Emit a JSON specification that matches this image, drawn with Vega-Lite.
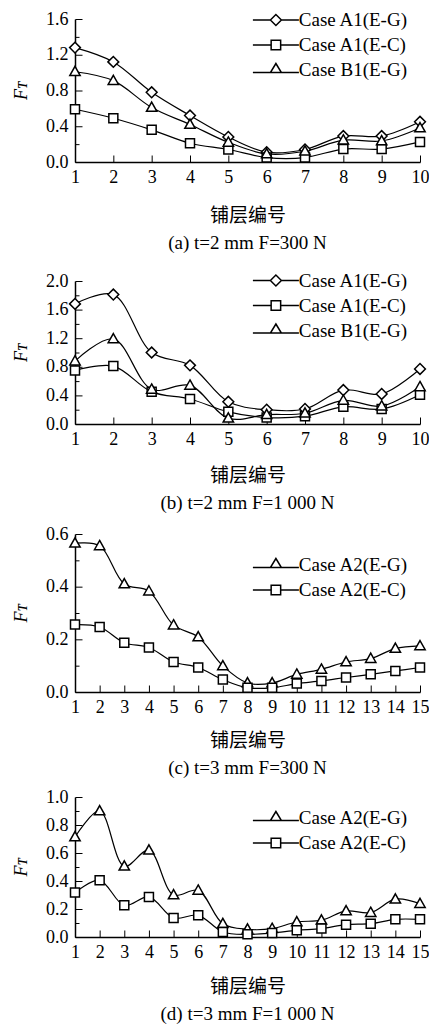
{
  "$schema": "https://vega.github.io/schema/vega-lite/v6.json",
  "autosize": {"type": "pad"},
  "padding": {"left": 12, "top": 10, "right": 0, "bottom": 0},
  "background": "white",
  "spacing": 10,
  "resolve": {"scale": {"shape": "independent"}, "legend": {"shape": "independent"}},
  "config": {
    "view": {"stroke": null},
    "axis": {
      "grid": false, "domainColor": "black", "domainWidth": 1.5,
      "tickColor": "black", "tickRound": false,
      "labelColor": "black", "labelFont": "Liberation Serif", "labelFontSize": 18,
      "labelFlush": false, "labelOverlap": false, "labelBound": false,
      "titleColor": "black", "titleFont": "Noto Sans CJK SC", "titleFontSize": 19, "titleFontWeight": "normal"
    },
    "title": {"font": "Liberation Serif", "fontSize": 19, "fontWeight": "normal", "color": "black", "orient": "bottom", "anchor": "middle", "frame": "group", "offset": 9},
    "legend": {"padding": 0, "rowPadding": 5, "labelFont": "Liberation Serif", "labelFontSize": 19, "labelColor": "black", "labelOffset": 13.4, "title": null}
  },
  "datasets": {
    "a": [
      {"x": 1, "y": 1.28, "series": "Case A1(E-G)"}, {"x": 2, "y": 1.12, "series": "Case A1(E-G)"}, {"x": 3, "y": 0.78, "series": "Case A1(E-G)"}, {"x": 4, "y": 0.52, "series": "Case A1(E-G)"}, {"x": 5, "y": 0.28, "series": "Case A1(E-G)"}, {"x": 6, "y": 0.11, "series": "Case A1(E-G)"}, {"x": 7, "y": 0.14, "series": "Case A1(E-G)"}, {"x": 8, "y": 0.29, "series": "Case A1(E-G)"}, {"x": 9, "y": 0.29, "series": "Case A1(E-G)"}, {"x": 10, "y": 0.45, "series": "Case A1(E-G)"},
      {"x": 1, "y": 0.59, "series": "Case A1(E-C)"}, {"x": 2, "y": 0.49, "series": "Case A1(E-C)"}, {"x": 3, "y": 0.36, "series": "Case A1(E-C)"}, {"x": 4, "y": 0.21, "series": "Case A1(E-C)"}, {"x": 5, "y": 0.14, "series": "Case A1(E-C)"}, {"x": 6, "y": 0.05, "series": "Case A1(E-C)"}, {"x": 7, "y": 0.05, "series": "Case A1(E-C)"}, {"x": 8, "y": 0.145, "series": "Case A1(E-C)"}, {"x": 9, "y": 0.145, "series": "Case A1(E-C)"}, {"x": 10, "y": 0.225, "series": "Case A1(E-C)"},
      {"x": 1, "y": 1.01, "series": "Case B1(E-G)"}, {"x": 2, "y": 0.91, "series": "Case B1(E-G)"}, {"x": 3, "y": 0.61, "series": "Case B1(E-G)"}, {"x": 4, "y": 0.42, "series": "Case B1(E-G)"}, {"x": 5, "y": 0.22, "series": "Case B1(E-G)"}, {"x": 6, "y": 0.09, "series": "Case B1(E-G)"}, {"x": 7, "y": 0.12, "series": "Case B1(E-G)"}, {"x": 8, "y": 0.245, "series": "Case B1(E-G)"}, {"x": 9, "y": 0.235, "series": "Case B1(E-G)"}, {"x": 10, "y": 0.38, "series": "Case B1(E-G)"}
    ],
    "b": [
      {"x": 1, "y": 1.68, "series": "Case A1(E-G)"}, {"x": 2, "y": 1.81, "series": "Case A1(E-G)"}, {"x": 3, "y": 1.0, "series": "Case A1(E-G)"}, {"x": 4, "y": 0.82, "series": "Case A1(E-G)"}, {"x": 5, "y": 0.31, "series": "Case A1(E-G)"}, {"x": 6, "y": 0.2, "series": "Case A1(E-G)"}, {"x": 7, "y": 0.21, "series": "Case A1(E-G)"}, {"x": 8, "y": 0.475, "series": "Case A1(E-G)"}, {"x": 9, "y": 0.42, "series": "Case A1(E-G)"}, {"x": 10, "y": 0.77, "series": "Case A1(E-G)"},
      {"x": 1, "y": 0.75, "series": "Case A1(E-C)"}, {"x": 2, "y": 0.81, "series": "Case A1(E-C)"}, {"x": 3, "y": 0.45, "series": "Case A1(E-C)"}, {"x": 4, "y": 0.35, "series": "Case A1(E-C)"}, {"x": 5, "y": 0.17, "series": "Case A1(E-C)"}, {"x": 6, "y": 0.09, "series": "Case A1(E-C)"}, {"x": 7, "y": 0.11, "series": "Case A1(E-C)"}, {"x": 8, "y": 0.24, "series": "Case A1(E-C)"}, {"x": 9, "y": 0.21, "series": "Case A1(E-C)"}, {"x": 10, "y": 0.41, "series": "Case A1(E-C)"},
      {"x": 1, "y": 0.88, "series": "Case B1(E-G)"}, {"x": 2, "y": 1.19, "series": "Case B1(E-G)"}, {"x": 3, "y": 0.485, "series": "Case B1(E-G)"}, {"x": 4, "y": 0.54, "series": "Case B1(E-G)"}, {"x": 5, "y": 0.08, "series": "Case B1(E-G)"}, {"x": 6, "y": 0.13, "series": "Case B1(E-G)"}, {"x": 7, "y": 0.15, "series": "Case B1(E-G)"}, {"x": 8, "y": 0.33, "series": "Case B1(E-G)"}, {"x": 9, "y": 0.25, "series": "Case B1(E-G)"}, {"x": 10, "y": 0.52, "series": "Case B1(E-G)"}
    ],
    "c": [
      {"x": 1, "y": 0.565, "series": "Case A2(E-G)"}, {"x": 2, "y": 0.555, "series": "Case A2(E-G)"}, {"x": 3, "y": 0.41, "series": "Case A2(E-G)"}, {"x": 4, "y": 0.383, "series": "Case A2(E-G)"}, {"x": 5, "y": 0.254, "series": "Case A2(E-G)"}, {"x": 6, "y": 0.209, "series": "Case A2(E-G)"}, {"x": 7, "y": 0.099, "series": "Case A2(E-G)"}, {"x": 8, "y": 0.034, "series": "Case A2(E-G)"}, {"x": 9, "y": 0.034, "series": "Case A2(E-G)"}, {"x": 10, "y": 0.067, "series": "Case A2(E-G)"}, {"x": 11, "y": 0.086, "series": "Case A2(E-G)"}, {"x": 12, "y": 0.114, "series": "Case A2(E-G)"}, {"x": 13, "y": 0.127, "series": "Case A2(E-G)"}, {"x": 14, "y": 0.165, "series": "Case A2(E-G)"}, {"x": 15, "y": 0.175, "series": "Case A2(E-G)"},
      {"x": 1, "y": 0.256, "series": "Case A2(E-C)"}, {"x": 2, "y": 0.247, "series": "Case A2(E-C)"}, {"x": 3, "y": 0.187, "series": "Case A2(E-C)"}, {"x": 4, "y": 0.169, "series": "Case A2(E-C)"}, {"x": 5, "y": 0.114, "series": "Case A2(E-C)"}, {"x": 6, "y": 0.093, "series": "Case A2(E-C)"}, {"x": 7, "y": 0.047, "series": "Case A2(E-C)"}, {"x": 8, "y": 0.016, "series": "Case A2(E-C)"}, {"x": 9, "y": 0.016, "series": "Case A2(E-C)"}, {"x": 10, "y": 0.032, "series": "Case A2(E-C)"}, {"x": 11, "y": 0.042, "series": "Case A2(E-C)"}, {"x": 12, "y": 0.055, "series": "Case A2(E-C)"}, {"x": 13, "y": 0.067, "series": "Case A2(E-C)"}, {"x": 14, "y": 0.08, "series": "Case A2(E-C)"}, {"x": 15, "y": 0.093, "series": "Case A2(E-C)"}
    ],
    "d": [
      {"x": 1, "y": 0.714, "series": "Case A2(E-G)"}, {"x": 2, "y": 0.9, "series": "Case A2(E-G)"}, {"x": 3, "y": 0.505, "series": "Case A2(E-G)"}, {"x": 4, "y": 0.62, "series": "Case A2(E-G)"}, {"x": 5, "y": 0.3, "series": "Case A2(E-G)"}, {"x": 6, "y": 0.333, "series": "Case A2(E-G)"}, {"x": 7, "y": 0.095, "series": "Case A2(E-G)"}, {"x": 8, "y": 0.055, "series": "Case A2(E-G)"}, {"x": 9, "y": 0.06, "series": "Case A2(E-G)"}, {"x": 10, "y": 0.107, "series": "Case A2(E-G)"}, {"x": 11, "y": 0.12, "series": "Case A2(E-G)"}, {"x": 12, "y": 0.186, "series": "Case A2(E-G)"}, {"x": 13, "y": 0.174, "series": "Case A2(E-G)"}, {"x": 14, "y": 0.27, "series": "Case A2(E-G)"}, {"x": 15, "y": 0.238, "series": "Case A2(E-G)"},
      {"x": 1, "y": 0.317, "series": "Case A2(E-C)"}, {"x": 2, "y": 0.405, "series": "Case A2(E-C)"}, {"x": 3, "y": 0.226, "series": "Case A2(E-C)"}, {"x": 4, "y": 0.286, "series": "Case A2(E-C)"}, {"x": 5, "y": 0.136, "series": "Case A2(E-C)"}, {"x": 6, "y": 0.155, "series": "Case A2(E-C)"}, {"x": 7, "y": 0.036, "series": "Case A2(E-C)"}, {"x": 8, "y": 0.019, "series": "Case A2(E-C)"}, {"x": 9, "y": 0.029, "series": "Case A2(E-C)"}, {"x": 10, "y": 0.048, "series": "Case A2(E-C)"}, {"x": 11, "y": 0.06, "series": "Case A2(E-C)"}, {"x": 12, "y": 0.088, "series": "Case A2(E-C)"}, {"x": 13, "y": 0.095, "series": "Case A2(E-C)"}, {"x": 14, "y": 0.126, "series": "Case A2(E-C)"}, {"x": 15, "y": 0.126, "series": "Case A2(E-C)"}
    ]
  },
  "vconcat": [
    {
      "width": 345, "height": 143,
      "title": {"text": "(a) t=2 mm F=300 N", "subtitle": " ", "subtitleFontSize": 6, "subtitlePadding": 2},
      "data": {"name": "a"},
      "encoding": {
        "x": {"field": "x", "type": "quantitative", "scale": {"domain": [1, 10], "nice": false, "zero": false},
              "axis": {"values": [1, 2, 3, 4, 5, 6, 7, 8, 9, 10], "title": "铺层编号", "tickSize": -7, "labelPadding": 13, "titlePadding": 20}},
        "y": {"field": "y", "type": "quantitative", "scale": {"domain": [0, 1.6], "nice": false},
              "axis": {"values": [0, 0.2, 0.4, 0.6, 0.8, 1.0, 1.2, 1.4, 1.6], "title": "Fᴛ", "titleFont": "Liberation Serif", "titleFontStyle": "italic", "titleFontSize": 18, "titlePadding": 15, "labelPadding": 14,
                       "labelExpr": "round(datum.value*10)%4==0 ? format(datum.value,'.1f') : ''",
                       "tickSize": {"condition": {"test": "round(datum.value*10)%4==0", "value": -7}, "value": -4}}}
      },
      "layer": [
        {"mark": {"type": "line", "interpolate": "catmull-rom", "color": "black", "strokeWidth": 1.2},
         "encoding": {"detail": {"field": "series"}}},
        {"mark": {"type": "point", "filled": true, "fill": "white", "stroke": "black", "strokeWidth": 1.5, "size": 81, "opacity": 1},
         "encoding": {"shape": {"field": "series", "scale": {"domain": ["Case A1(E-G)", "Case A1(E-C)", "Case B1(E-G)"], "range": ["M-1.2,0L0,-1.2L1.2,0L0,1.2Z", "M-1,-1L1,-1L1,1L-1,1Z", "M0,-1.2L1.15,0.85L-1.15,0.85Z"]}, "legend": null}}},
        {"transform": [{"filter": "false"}],
         "mark": {"type": "point", "filled": true, "fill": "white", "stroke": "black", "strokeWidth": 1.3, "size": 64, "opacity": 1},
         "encoding": {"shape": {"field": "series", "scale": {"domain": ["Case A1(E-G)", "Case A1(E-C)", "Case B1(E-G)"], "range": ["M-4.6,0L-1.1,0M1.1,0L4.6,0M-1.1,0L0,-1.1L1.1,0L0,1.1Z", "M-4.6,0L-0.95,0M0.95,0L4.6,0M-0.95,-0.95L0.95,-0.95L0.95,0.95L-0.95,0.95Z", "M-4.6,0.5L-1.1,0.5M1.1,0.5L4.6,0.5M0,-1.3L1.1,0.5L-1.1,0.5Z"]},
                               "legend": {"orient": "none", "legendX": 191.4, "legendY": -8.5}}}}
      ],
      "resolve": {"scale": {"shape": "independent"}}
    },
    {
      "width": 345, "height": 143,
      "title": {"text": "(b) t=2 mm F=1 000 N", "subtitle": " ", "subtitleFontSize": 2, "subtitlePadding": 0},
      "data": {"name": "b"},
      "encoding": {
        "x": {"field": "x", "type": "quantitative", "scale": {"domain": [1, 10], "nice": false, "zero": false},
              "axis": {"values": [1, 2, 3, 4, 5, 6, 7, 8, 9, 10], "title": "铺层编号", "tickSize": -7, "labelPadding": 13, "titlePadding": 18}},
        "y": {"field": "y", "type": "quantitative", "scale": {"domain": [0, 2.0], "nice": false},
              "axis": {"values": [0, 0.2, 0.4, 0.6, 0.8, 1.0, 1.2, 1.4, 1.6, 1.8, 2.0], "title": "Fᴛ", "titleFont": "Liberation Serif", "titleFontStyle": "italic", "titleFontSize": 18, "titlePadding": 15, "labelPadding": 14,
                       "labelExpr": "round(datum.value*10)%4==0 ? format(datum.value,'.1f') : ''",
                       "tickSize": {"condition": {"test": "round(datum.value*10)%4==0", "value": -7}, "value": -4}}}
      },
      "layer": [
        {"mark": {"type": "line", "interpolate": "catmull-rom", "color": "black", "strokeWidth": 1.2},
         "encoding": {"detail": {"field": "series"}}},
        {"mark": {"type": "point", "filled": true, "fill": "white", "stroke": "black", "strokeWidth": 1.5, "size": 81, "opacity": 1},
         "encoding": {"shape": {"field": "series", "scale": {"domain": ["Case A1(E-G)", "Case A1(E-C)", "Case B1(E-G)"], "range": ["M-1.2,0L0,-1.2L1.2,0L0,1.2Z", "M-1,-1L1,-1L1,1L-1,1Z", "M0,-1.2L1.15,0.85L-1.15,0.85Z"]}, "legend": null}}},
        {"transform": [{"filter": "false"}],
         "mark": {"type": "point", "filled": true, "fill": "white", "stroke": "black", "strokeWidth": 1.3, "size": 64, "opacity": 1},
         "encoding": {"shape": {"field": "series", "scale": {"domain": ["Case A1(E-G)", "Case A1(E-C)", "Case B1(E-G)"], "range": ["M-4.6,0L-1.1,0M1.1,0L4.6,0M-1.1,0L0,-1.1L1.1,0L0,1.1Z", "M-4.6,0L-0.95,0M0.95,0L4.6,0M-0.95,-0.95L0.95,-0.95L0.95,0.95L-0.95,0.95Z", "M-4.6,0.5L-1.1,0.5M1.1,0.5L4.6,0.5M0,-1.3L1.1,0.5L-1.1,0.5Z"]},
                               "legend": {"orient": "none", "legendX": 191.4, "legendY": -10}}}}
      ],
      "resolve": {"scale": {"shape": "independent"}}
    },
    {
      "width": 345, "height": 158,
      "title": {"text": "(c) t=3 mm F=300 N"},
      "data": {"name": "c"},
      "encoding": {
        "x": {"field": "x", "type": "quantitative", "scale": {"domain": [1, 15], "nice": false, "zero": false},
              "axis": {"values": [1, 2, 3, 4, 5, 6, 7, 8, 9, 10, 11, 12, 13, 14, 15], "title": "铺层编号", "tickSize": -7, "labelPadding": 13, "titlePadding": 15}},
        "y": {"field": "y", "type": "quantitative", "scale": {"domain": [0, 0.6], "nice": false},
              "axis": {"values": [0, 0.1, 0.2, 0.3, 0.4, 0.5, 0.6], "title": "Fᴛ", "titleFont": "Liberation Serif", "titleFontStyle": "italic", "titleFontSize": 18, "titlePadding": 15, "labelPadding": 14,
                       "labelExpr": "round(datum.value*10)%2==0 ? format(datum.value,'.1f') : ''",
                       "tickSize": {"condition": {"test": "round(datum.value*10)%2==0", "value": -7}, "value": -4}}}
      },
      "layer": [
        {"mark": {"type": "line", "interpolate": "catmull-rom", "color": "black", "strokeWidth": 1.2},
         "encoding": {"detail": {"field": "series"}}},
        {"mark": {"type": "point", "filled": true, "fill": "white", "stroke": "black", "strokeWidth": 1.5, "size": 81, "opacity": 1},
         "encoding": {"shape": {"field": "series", "scale": {"domain": ["Case A2(E-G)", "Case A2(E-C)"], "range": ["M0,-1.2L1.15,0.85L-1.15,0.85Z", "M-1,-1L1,-1L1,1L-1,1Z"]}, "legend": null}}},
        {"transform": [{"filter": "false"}],
         "mark": {"type": "point", "filled": true, "fill": "white", "stroke": "black", "strokeWidth": 1.3, "size": 64, "opacity": 1},
         "encoding": {"shape": {"field": "series", "scale": {"domain": ["Case A2(E-G)", "Case A2(E-C)"], "range": ["M-4.6,0.5L-1.1,0.5M1.1,0.5L4.6,0.5M0,-1.3L1.1,0.5L-1.1,0.5Z", "M-4.6,0L-0.95,0M0.95,0L4.6,0M-0.95,-0.95L0.95,-0.95L0.95,0.95L-0.95,0.95Z"]},
                               "legend": {"orient": "none", "legendX": 191.4, "legendY": 21.5}}}}
      ],
      "resolve": {"scale": {"shape": "independent"}}
    },
    {
      "width": 345, "height": 140,
      "title": {"text": "(d) t=3 mm F=1 000 N"},
      "data": {"name": "d"},
      "encoding": {
        "x": {"field": "x", "type": "quantitative", "scale": {"domain": [1, 15], "nice": false, "zero": false},
              "axis": {"values": [1, 2, 3, 4, 5, 6, 7, 8, 9, 10, 11, 12, 13, 14, 15], "title": "铺层编号", "tickSize": -7, "labelPadding": 13, "titlePadding": 16}},
        "y": {"field": "y", "type": "quantitative", "scale": {"domain": [0, 1.0], "nice": false},
              "axis": {"values": [0, 0.1, 0.2, 0.3, 0.4, 0.5, 0.6, 0.7, 0.8, 0.9, 1.0], "title": "Fᴛ", "titleFont": "Liberation Serif", "titleFontStyle": "italic", "titleFontSize": 18, "titlePadding": 15, "labelPadding": 14,
                       "labelExpr": "round(datum.value*10)%2==0 ? format(datum.value,'.1f') : ''",
                       "tickSize": {"condition": {"test": "round(datum.value*10)%2==0", "value": -7}, "value": -4}}}
      },
      "layer": [
        {"mark": {"type": "line", "interpolate": "catmull-rom", "color": "black", "strokeWidth": 1.2},
         "encoding": {"detail": {"field": "series"}}},
        {"mark": {"type": "point", "filled": true, "fill": "white", "stroke": "black", "strokeWidth": 1.5, "size": 81, "opacity": 1},
         "encoding": {"shape": {"field": "series", "scale": {"domain": ["Case A2(E-G)", "Case A2(E-C)"], "range": ["M0,-1.2L1.15,0.85L-1.15,0.85Z", "M-1,-1L1,-1L1,1L-1,1Z"]}, "legend": null}}},
        {"transform": [{"filter": "false"}],
         "mark": {"type": "point", "filled": true, "fill": "white", "stroke": "black", "strokeWidth": 1.3, "size": 64, "opacity": 1},
         "encoding": {"shape": {"field": "series", "scale": {"domain": ["Case A2(E-G)", "Case A2(E-C)"], "range": ["M-4.6,0.5L-1.1,0.5M1.1,0.5L4.6,0.5M0,-1.3L1.1,0.5L-1.1,0.5Z", "M-4.6,0L-0.95,0M0.95,0L4.6,0M-0.95,-0.95L0.95,-0.95L0.95,0.95L-0.95,0.95Z"]},
                               "legend": {"orient": "none", "legendX": 191.4, "legendY": 11.5}}}}
      ],
      "resolve": {"scale": {"shape": "independent"}}
    }
  ]
}
